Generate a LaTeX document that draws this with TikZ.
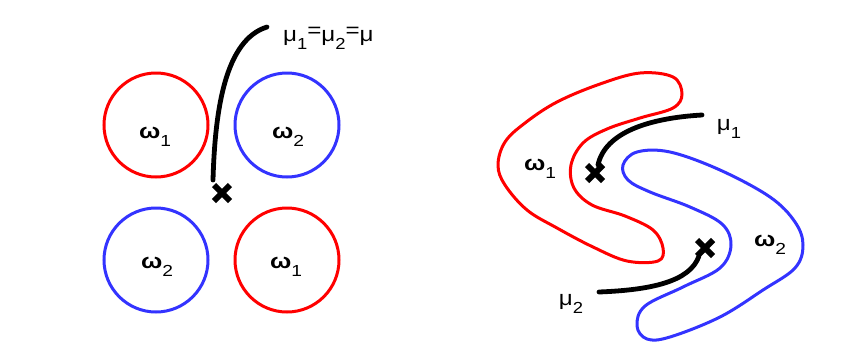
\documentclass[tikz,border=0pt]{standalone}
\usepackage{fontspec}
\setmainfont{Liberation Sans}
\newcommand\lowsub[1]{\raisebox{-0.42em}{\fontsize{16}{16}\selectfont #1}}
\newcommand\omg[1]{\scalebox{1.2}[1]{\textbf{ω}\lowsub{#1}}}
\begin{document}
\begin{tikzpicture}[x=1pt,y=-1pt,
  redline/.style={draw={rgb,255:red,255;green,0;blue,0},line width=3pt},
  blueline/.style={draw={rgb,255:red,51;green,51;blue,255},line width=3pt},
  lbl/.style={inner sep=0pt,anchor=base,font=\fontsize{21}{21}\selectfont},
  pointer/.style={draw=black,line width=4.8pt,line cap=round},
  xmark/.style={draw=black,line width=6pt}]
\useasboundingbox (0,0) rectangle (862,362);

% four circular classes
\node[redline,circle,minimum size=104pt,inner sep=0pt] (c11) at (156,125) {};
\node[blueline,circle,minimum size=104pt,inner sep=0pt] (c12) at (287,125) {};
\node[blueline,circle,minimum size=104pt,inner sep=0pt] (c21) at (156,260) {};
\node[redline,circle,minimum size=104pt,inner sep=0pt] (c22) at (287,260) {};
\node[lbl] (w11) at (155,138) {\omg{1}};
\node[lbl] (w12) at (288,138) {\omg{2}};
\node[lbl] (w21) at (157,268) {\omg{2}};
\node[lbl] (w22) at (286,268) {\omg{1}};

% common mean
\coordinate (m) at (222,193);
\draw[xmark] ([shift={(-8,-8)}]m) -- ([shift={(8,8)}]m);
\draw[xmark] ([shift={(-8,8)}]m) -- ([shift={(8,-8)}]m);
\node[lbl,anchor=base west] (mu) at (283,41) {\scalebox{1.15}[1]{μ\lowsub{1}\raisebox{0.15em}{=}μ\lowsub{2}\raisebox{0.15em}{=}μ}};
\coordinate (ms) at (267,27);
\coordinate (me) at (213,180);
\draw[pointer] (ms) .. controls (225,40) and (215,110) .. (me);

% two interlocking S-shaped classes
\draw[redline,line join=round] plot[smooth cycle,tension=0.6] coordinates {
  (640,73) (673,77) (682,94) (673,108) (640,118) (607,129) (583,143)
  (571,165) (574,188) (592,205) (625,216) (653,230) (663,248) (658,261)
  (627,261) (593,247) (557,228) (527,210) (505,185) (498,165) (505,142)
  (525,123) (557,102) (600,84)};
\draw[blueline,line join=round] plot[smooth cycle,tension=0.6] coordinates {
  (637,152) (670,152) (720,170) (770,197) (795,222) (803,245) (795,268)
  (763,290) (720,317) (670,337) (647,339) (637,326) (645,306) (683,287)
  (720,268) (731,245) (722,224) (690,207) (650,192) (628,180) (623,165)};
\node[lbl] (w1) at (540,170) {\omg{1}};
\node[lbl] (w2) at (770,246) {\omg{2}};

% class means
\coordinate (m1) at (595,173);
\coordinate (m2) at (705,248);
\draw[xmark] ([shift={(-8,-8)}]m1) -- ([shift={(8,8)}]m1);
\draw[xmark] ([shift={(-8,8)}]m1) -- ([shift={(8,-8)}]m1);
\draw[xmark] ([shift={(-8,-8)}]m2) -- ([shift={(8,8)}]m2);
\draw[xmark] ([shift={(-8,8)}]m2) -- ([shift={(8,-8)}]m2);
\node[lbl] (mu1) at (729,130) {\scalebox{1.15}[1]{μ\lowsub{1}}};
\node[lbl] (mu2) at (571,305) {\scalebox{1.15}[1]{μ\lowsub{2}}};
\coordinate (s1) at (702,115);
\coordinate (e1) at (598,165);
\coordinate (s2) at (599,292);
\coordinate (e2) at (699,256);
\draw[pointer] (s1) .. controls (650,118) and (605,132) .. (e1);
\draw[pointer] (s2) .. controls (650,290) and (690,282) .. (e2);
\end{tikzpicture}
\end{document}
